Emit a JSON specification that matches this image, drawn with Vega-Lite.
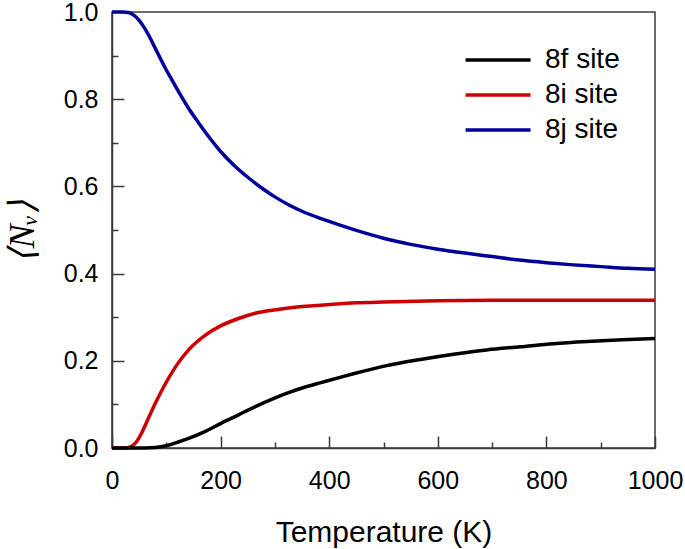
{
  "$schema": "https://vega.github.io/schema/vega-lite/v6.json",
  "width": 543,
  "height": 436,
  "autosize": {"type": "none"},
  "padding": {"left": 112, "top": 12, "right": 30, "bottom": 101},
  "background": "white",
  "config": {
    "font": "Liberation Sans",
    "view": {"stroke": "#3a3a3a", "strokeWidth": 1.5}
  },
  "data": {
    "values": [
      {"T": 0, "v": 1.0, "site": "8j site"},
      {"T": 20, "v": 1.0, "site": "8j site"},
      {"T": 30, "v": 0.999, "site": "8j site"},
      {"T": 40, "v": 0.993, "site": "8j site"},
      {"T": 50, "v": 0.981, "site": "8j site"},
      {"T": 60, "v": 0.963, "site": "8j site"},
      {"T": 70, "v": 0.941, "site": "8j site"},
      {"T": 80, "v": 0.916, "site": "8j site"},
      {"T": 90, "v": 0.891, "site": "8j site"},
      {"T": 100, "v": 0.867, "site": "8j site"},
      {"T": 110, "v": 0.845, "site": "8j site"},
      {"T": 125, "v": 0.812, "site": "8j site"},
      {"T": 140, "v": 0.781, "site": "8j site"},
      {"T": 160, "v": 0.745, "site": "8j site"},
      {"T": 180, "v": 0.711, "site": "8j site"},
      {"T": 200, "v": 0.680, "site": "8j site"},
      {"T": 225, "v": 0.648, "site": "8j site"},
      {"T": 250, "v": 0.621, "site": "8j site"},
      {"T": 275, "v": 0.597, "site": "8j site"},
      {"T": 300, "v": 0.576, "site": "8j site"},
      {"T": 325, "v": 0.558, "site": "8j site"},
      {"T": 350, "v": 0.543, "site": "8j site"},
      {"T": 385, "v": 0.526, "site": "8j site"},
      {"T": 420, "v": 0.511, "site": "8j site"},
      {"T": 450, "v": 0.499, "site": "8j site"},
      {"T": 500, "v": 0.481, "site": "8j site"},
      {"T": 550, "v": 0.467, "site": "8j site"},
      {"T": 600, "v": 0.456, "site": "8j site"},
      {"T": 650, "v": 0.447, "site": "8j site"},
      {"T": 700, "v": 0.439, "site": "8j site"},
      {"T": 750, "v": 0.431, "site": "8j site"},
      {"T": 800, "v": 0.425, "site": "8j site"},
      {"T": 850, "v": 0.420, "site": "8j site"},
      {"T": 900, "v": 0.416, "site": "8j site"},
      {"T": 950, "v": 0.412, "site": "8j site"},
      {"T": 1000, "v": 0.410, "site": "8j site"},

      {"T": 0, "v": 0.0, "site": "8i site"},
      {"T": 25, "v": 0.0, "site": "8i site"},
      {"T": 35, "v": 0.003, "site": "8i site"},
      {"T": 43, "v": 0.011, "site": "8i site"},
      {"T": 50, "v": 0.024, "site": "8i site"},
      {"T": 56, "v": 0.038, "site": "8i site"},
      {"T": 67, "v": 0.068, "site": "8i site"},
      {"T": 80, "v": 0.103, "site": "8i site"},
      {"T": 90, "v": 0.128, "site": "8i site"},
      {"T": 100, "v": 0.151, "site": "8i site"},
      {"T": 117, "v": 0.186, "site": "8i site"},
      {"T": 141, "v": 0.225, "site": "8i site"},
      {"T": 172, "v": 0.259, "site": "8i site"},
      {"T": 200, "v": 0.280, "site": "8i site"},
      {"T": 233, "v": 0.297, "site": "8i site"},
      {"T": 264, "v": 0.309, "site": "8i site"},
      {"T": 295, "v": 0.316, "site": "8i site"},
      {"T": 325, "v": 0.321, "site": "8i site"},
      {"T": 356, "v": 0.325, "site": "8i site"},
      {"T": 390, "v": 0.328, "site": "8i site"},
      {"T": 420, "v": 0.331, "site": "8i site"},
      {"T": 450, "v": 0.333, "site": "8i site"},
      {"T": 500, "v": 0.335, "site": "8i site"},
      {"T": 600, "v": 0.338, "site": "8i site"},
      {"T": 700, "v": 0.339, "site": "8i site"},
      {"T": 800, "v": 0.339, "site": "8i site"},
      {"T": 1000, "v": 0.339, "site": "8i site"},

      {"T": 0, "v": 0.0, "site": "8f site"},
      {"T": 60, "v": 0.0, "site": "8f site"},
      {"T": 80, "v": 0.001, "site": "8f site"},
      {"T": 100, "v": 0.005, "site": "8f site"},
      {"T": 120, "v": 0.013, "site": "8f site"},
      {"T": 141, "v": 0.022, "site": "8f site"},
      {"T": 172, "v": 0.038, "site": "8f site"},
      {"T": 200, "v": 0.056, "site": "8f site"},
      {"T": 233, "v": 0.076, "site": "8f site"},
      {"T": 264, "v": 0.095, "site": "8f site"},
      {"T": 295, "v": 0.112, "site": "8f site"},
      {"T": 325, "v": 0.127, "site": "8f site"},
      {"T": 356, "v": 0.140, "site": "8f site"},
      {"T": 385, "v": 0.150, "site": "8f site"},
      {"T": 420, "v": 0.162, "site": "8f site"},
      {"T": 450, "v": 0.172, "site": "8f site"},
      {"T": 506, "v": 0.189, "site": "8f site"},
      {"T": 568, "v": 0.203, "site": "8f site"},
      {"T": 629, "v": 0.215, "site": "8f site"},
      {"T": 690, "v": 0.225, "site": "8f site"},
      {"T": 752, "v": 0.232, "site": "8f site"},
      {"T": 813, "v": 0.239, "site": "8f site"},
      {"T": 875, "v": 0.244, "site": "8f site"},
      {"T": 940, "v": 0.248, "site": "8f site"},
      {"T": 1000, "v": 0.251, "site": "8f site"}
    ]
  },
  "mark": {"type": "line", "strokeWidth": 3.5, "interpolate": "monotone"},
  "encoding": {
    "x": {
      "field": "T",
      "type": "quantitative",
      "scale": {"domain": [0, 1000], "nice": false, "zero": false},
      "axis": {
        "title": "Temperature (K)",
        "values": [0, 100, 200, 300, 400, 500, 600, 700, 800, 900, 1000],
        "labelExpr": "datum.value % 200 === 0 ? format(datum.value, 'd') : ''",
        "tickSize": {"condition": {"test": "datum.value % 200 === 0", "value": -12}, "value": -6},
        "tickColor": "#3a3a3a",
        "tickWidth": 1.5,
        "domainColor": "#3a3a3a",
        "domainWidth": 1.5,
        "grid": false,
        "labelFontSize": 25,
        "labelColor": "#000000",
        "labelPadding": 32,
        "labelFlush": false,
        "labelOverlap": false,
        "titleFontSize": 30,
        "titleFontWeight": "normal",
        "titleColor": "#000000",
        "titlePadding": 18
      }
    },
    "y": {
      "field": "v",
      "type": "quantitative",
      "scale": {"domain": [0, 1], "nice": false},
      "axis": {
        "title": "⟨Nᵥ⟩",
        "values": [0, 0.1, 0.2, 0.3, 0.4, 0.5, 0.6, 0.7, 0.8, 0.9, 1.0],
        "labelExpr": "(round(datum.value * 10) % 2 === 0) ? format(datum.value, '.1f') : ''",
        "tickSize": {"condition": {"test": "round(datum.value * 10) % 2 === 0", "value": -12}, "value": -6},
        "tickColor": "#3a3a3a",
        "tickWidth": 1.5,
        "domainColor": "#3a3a3a",
        "domainWidth": 1.5,
        "grid": false,
        "labelFontSize": 25,
        "labelColor": "#000000",
        "labelPadding": 26,
        "labelFlush": false,
        "labelOverlap": false,
        "titleFont": "Liberation Serif",
        "titleFontStyle": "italic",
        "titleFontSize": 36,
        "titleFontWeight": "normal",
        "titleColor": "#000000",
        "titleX": -90,
        "titleY": 219,
        "titleAngle": -90,
        "titleAlign": "center",
        "titleBaseline": "middle"
      }
    },
    "color": {
      "field": "site",
      "type": "nominal",
      "scale": {"domain": ["8f site", "8i site", "8j site"], "range": ["#000000", "#cc0000", "#00009c"]},
      "legend": {
        "title": null,
        "orient": "none",
        "legendX": 383,
        "legendY": 30,
        "padding": 0,
        "symbolType": "M-2.92,0H1.08",
        "symbolSize": 1056,
        "symbolStrokeWidth": 3.5,
        "labelFontSize": 28,
        "labelColor": "#000000",
        "labelOffset": 14,
        "rowPadding": 3
      }
    }
  }
}
